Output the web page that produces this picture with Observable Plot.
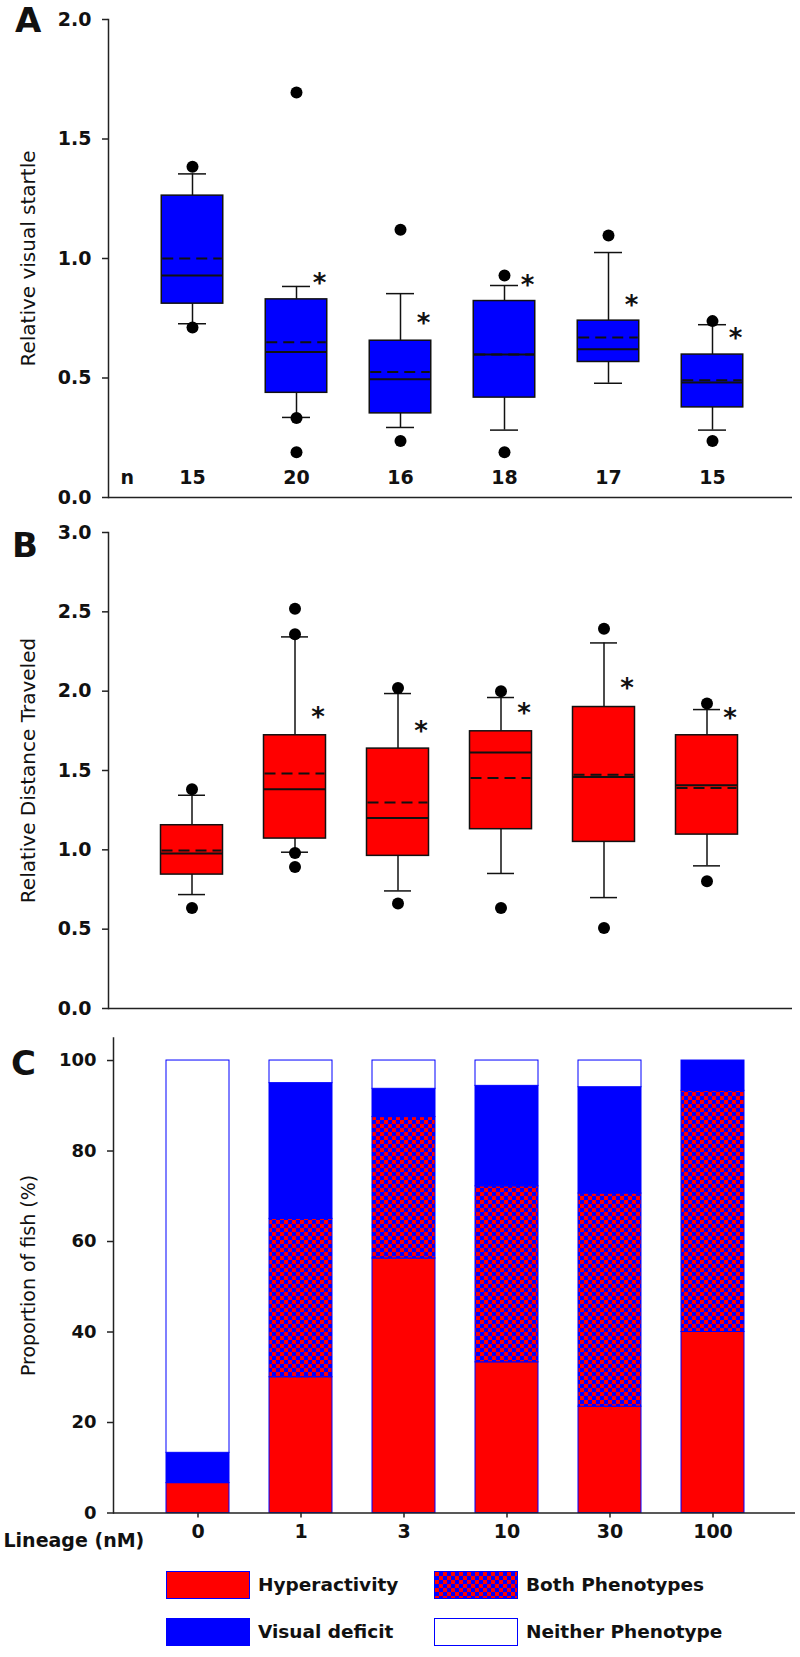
<!DOCTYPE html>
<html>
<head>
<meta charset="utf-8">
<script src="https://cdn.jsdelivr.net/npm/d3@7"></script>
<script src="https://cdn.jsdelivr.net/npm/@observablehq/plot@0.6"></script>
<style>
  body { margin: 0; background: #fff; font-family: "DejaVu Sans", sans-serif; }
  #root { position: relative; width: 800px; height: 1657px; overflow: hidden; background: #fff; }
  .panel { position: absolute; left: 0; }
  .letter { position: absolute; font-size: 34px; font-weight: bold; line-height: 34px; color: #111; }
  .sw { position: absolute; width: 84px; height: 28px; box-sizing: border-box; border: 1.5px solid #0000ff; }
  .lt { position: absolute; height: 28px; line-height: 28px; font-size: 18.5px; font-weight: bold; color: #111; white-space: nowrap; }
</style>
</head>
<body>
<div id="root">
  <div id="pA" class="panel" style="top:0px"></div>
  <div id="pB" class="panel" style="top:520px"></div>
  <div id="pC" class="panel" style="top:1020px"></div>
  <div class="letter" style="left:15px; top:3px">A</div>
  <div class="letter" style="left:12px; top:528px">B</div>
  <div class="letter" style="left:11px; top:1046px">C</div>
  <div id="legend"></div>
</div>
<script>
// ---------- shared categories ----------
const doses = ["0", "1", "3", "10", "30", "100"];
const nFish = [15, 20, 16, 18, 17, 15];

// ---------- Panel A: relative visual startle ----------
const aLow    = [0.727, 0.335, 0.293, 0.282, 0.478, 0.282];
const aQ1     = [0.811, 0.438, 0.352, 0.418, 0.567, 0.377];
const aMedian = [0.929, 0.609, 0.495, 0.598, 0.620, 0.481];
const aMean   = [1.000, 0.650, 0.525, 0.598, 0.669, 0.491];
const aQ3     = [1.263, 0.829, 0.656, 0.822, 0.740, 0.598];
const aHigh   = [1.354, 0.883, 0.853, 0.887, 1.025, 0.723];
const aOutliers = [[1.384, 0.711], [1.695, 0.333, 0.189], [1.12, 0.236], [0.929, 0.189], [1.096], [0.738, 0.236]];
const aStars  = [null, 0.925, 0.755, 0.915, 0.832, 0.695];
const aTicks  = [0, 0.5, 1.0, 1.5, 2.0];

// ---------- Panel B: relative distance traveled ----------
const bLow    = [0.718, 0.985, 0.741, 0.851, 0.699, 0.899];
const bQ1     = [0.844, 1.071, 0.962, 1.130, 1.050, 1.096];
const bMedian = [0.977, 1.382, 1.201, 1.613, 1.459, 1.407];
const bMean   = [0.996, 1.481, 1.298, 1.453, 1.474, 1.390];
const bQ3     = [1.155, 1.722, 1.638, 1.747, 1.900, 1.722];
const bHigh   = [1.344, 2.342, 1.985, 1.960, 2.304, 1.884];
const bOutliers = [[1.382, 0.634], [2.520, 2.358, 0.980, 0.892], [2.02, 0.662], [2.0, 0.634], [2.394, 0.508], [1.922, 0.802]];
const bStars  = [null, 1.88, 1.79, 1.90, 2.062, 1.869];
const bTicks  = [0, 0.5, 1.0, 1.5, 2.0, 2.5, 3.0];

// ---------- Panel C: proportion of fish (%) ----------
const phenotypes = ["Hyperactivity", "Both Phenotypes", "Visual deficit", "Neither Phenotype"];
const hyper   = [6.6, 30, 56.25, 33.3, 23.5, 40];
const both    = [0, 35, 31.25, 38.9, 47.1, 53.3];
const visual  = [6.7, 30, 6.25, 22.2, 23.5, 6.7];
const neither = [86.7, 5, 6.25, 5.6, 5.9, 0];
const cTicks  = [0, 20, 40, 60, 80, 100];

const FONT = "DejaVu Sans";
const AX = "#222";
const INK = "#111";

function yTickLabels(ticks, fmt, size) {
  return Plot.text(ticks, {y: d => d, text: d => fmt(d), frameAnchor: "left", textAnchor: "end", dx: -17, fontSize: size, fontWeight: "bold", fill: INK});
}

function boxPanel(o) {
  const rows = doses.map((d, i) => ({
    dose: d, low: o.low[i], q1: o.q1[i], median: o.median[i], mean: o.mean[i],
    q3: o.q3[i], high: o.high[i], n: String(nFish[i])
  }));
  const pts = doses.flatMap((d, i) => o.outliers[i].map(v => ({dose: d, v})));
  const stars = doses.map((d, i) => ({dose: d, v: o.stars[i]})).filter(r => r.v != null);
  const boxInset = o.boxInset, capInset = o.capInset;
  const marks = [
    Plot.ruleX(rows, {x: "dose", y1: "low", y2: "q1", stroke: INK, strokeWidth: 1.5}),
    Plot.ruleX(rows, {x: "dose", y1: "q3", y2: "high", stroke: INK, strokeWidth: 1.5}),
    Plot.tickY(rows, {x: "dose", y: "low", stroke: INK, strokeWidth: 1.5, insetLeft: capInset, insetRight: capInset}),
    Plot.tickY(rows, {x: "dose", y: "high", stroke: INK, strokeWidth: 1.5, insetLeft: capInset, insetRight: capInset}),
    Plot.barY(rows, {x: "dose", y1: "q1", y2: "q3", fill: o.fill, stroke: INK, strokeWidth: 1.5, insetLeft: boxInset, insetRight: boxInset}),
    Plot.tickY(rows, {x: "dose", y: "median", stroke: INK, strokeWidth: 2, insetLeft: boxInset, insetRight: boxInset}),
    Plot.tickY(rows, {x: "dose", y: "mean", stroke: INK, strokeWidth: 2, strokeDasharray: "11,6", insetLeft: boxInset + 1, insetRight: boxInset + 1}),
    Plot.dot(pts, {x: "dose", y: "v", r: 6, fill: "#000", stroke: "none"}),
    Plot.text(stars, {x: "dose", y: "v", text: () => "*", dx: 23, dy: 7, fontSize: 26, fontWeight: "bold", fill: INK}),
    Plot.ruleY([0], {stroke: AX, strokeWidth: 1.5}),
    Plot.frame({anchor: "left", stroke: AX, strokeWidth: 1.5}),
    Plot.axisY({ticks: o.ticks, tickSize: 6, tickFormat: () => "", label: null, stroke: AX, strokeWidth: 1.5}),
    yTickLabels(o.ticks, d3.format(".1f"), 19),
    Plot.text([o.yLabel], {frameAnchor: "left", textAnchor: "middle", rotate: -90, dx: -80, fontSize: 20, fill: INK})
  ];
  if (o.showN) {
    marks.push(Plot.text(rows, {x: "dose", text: "n", frameAnchor: "bottom", dy: -14, fontSize: 19, fontWeight: "bold", fill: INK}));
    marks.push(Plot.text(["n"], {frameAnchor: "bottom-left", dx: 12, dy: -14, fontSize: 19, fontWeight: "bold", fill: INK}));
  }
  return Plot.plot({
    width: 800, height: o.height,
    marginTop: o.marginTop, marginBottom: o.marginBottom, marginLeft: 108, marginRight: 8,
    style: {fontFamily: FONT, background: "transparent", overflow: "visible"},
    x: {type: "band", domain: doses, range: o.xRange, padding: 0, axis: null},
    y: {domain: [0, o.ticks[o.ticks.length - 1]], axis: null},
    marks
  });
}

const svgA = boxPanel({
  low: aLow, q1: aQ1, median: aMedian, mean: aMean, q3: aQ3, high: aHigh,
  outliers: aOutliers, stars: aStars, ticks: aTicks, fill: "#0000ff",
  yLabel: "Relative visual startle", height: 520, marginTop: 19, marginBottom: 23,
  xRange: [140, 764], boxInset: 21.25, capInset: 38, showN: true
});
document.getElementById("pA").appendChild(svgA);

const svgB = boxPanel({
  low: bLow, q1: bQ1, median: bMedian, mean: bMean, q3: bQ3, high: bHigh,
  outliers: bOutliers, stars: bStars, ticks: bTicks, fill: "#ff0000",
  yLabel: "Relative Distance Traveled", height: 500, marginTop: 12, marginBottom: 12,
  xRange: [139, 759], boxInset: 20.5, capInset: 38, showN: false
});
document.getElementById("pB").appendChild(svgB);

// ---------- Panel C ----------
const seriesC = [hyper, both, visual, neither];
const cRows = phenotypes.flatMap((p, k) => doses.map((d, i) => ({dose: d, phenotype: p, value: seriesC[k][i]})))
  .filter(r => r.value > 0);

const svgC = Plot.plot({
  width: 800, height: 540,
  marginTop: 17.4, marginBottom: 47.5, marginLeft: 113, marginRight: 5,
  style: {fontFamily: FONT, background: "transparent", overflow: "visible"},
  x: {type: "band", domain: doses, range: [143, 766], padding: 0, axis: null},
  y: {domain: [0, 105], axis: null},
  color: {type: "ordinal", domain: phenotypes, range: ["#ff0000", "url(#checker)", "#0000ff", "#ffffff"]},
  marks: [
    Plot.barY(cRows, {x: "dose", y: "value", fill: "phenotype", stroke: "#0000ff", strokeWidth: 1, insetLeft: 20, insetRight: 20}),
    Plot.ruleY([0], {stroke: AX, strokeWidth: 1.5}),
    Plot.frame({anchor: "left", stroke: AX, strokeWidth: 1.5}),
    Plot.axisY({ticks: cTicks, tickSize: 6, tickFormat: () => "", label: null, stroke: AX, strokeWidth: 1.5}),
    yTickLabels(cTicks, d3.format("d"), 18),
    Plot.axisX({tickSize: 5, tickFormat: () => "", label: null, stroke: AX, strokeWidth: 1.5}),
    Plot.text(doses, {x: d => d, text: d => d, frameAnchor: "bottom", dy: 25, fontSize: 19, fontWeight: "bold", fill: INK}),
    Plot.text(["Proportion of fish (%)"], {frameAnchor: "left", textAnchor: "middle", rotate: -90, dx: -85, fontSize: 19, fill: INK}),
    Plot.text(["Lineage (nM)"], {frameAnchor: "bottom-left", dx: -110, dy: 34, textAnchor: "start", fontSize: 19, fontWeight: "bold", fill: INK})
  ]
});
// checkerboard pattern for "Both Phenotypes"
const defs = d3.select(svgC).insert("defs", ":first-child");
const pat = defs.append("pattern").attr("id", "checker").attr("width", 8).attr("height", 8).attr("patternUnits", "userSpaceOnUse");
pat.append("rect").attr("width", 8).attr("height", 8).attr("fill", "#ff0000");
pat.append("rect").attr("width", 4).attr("height", 4).attr("fill", "#0000ff");
pat.append("rect").attr("x", 4).attr("y", 4).attr("width", 4).attr("height", 4).attr("fill", "#0000ff");
document.getElementById("pC").appendChild(svgC);

// ---------- Legend ----------
const swatchStyle = {
  "Hyperactivity": "background:#ff0000;",
  "Both Phenotypes": "background: conic-gradient(#0000ff 25%, #ff0000 0 50%, #0000ff 0 75%, #ff0000 0) 0 0/8px 8px;",
  "Visual deficit": "background:#0000ff;",
  "Neither Phenotype": "background:#ffffff;"
};
const legendPos = {
  "Hyperactivity": [166, 1571],
  "Both Phenotypes": [434, 1571],
  "Visual deficit": [166, 1618],
  "Neither Phenotype": [434, 1618]
};
const lg = document.getElementById("legend");
for (const p of phenotypes) {
  const [lx, ly] = legendPos[p];
  const sw = document.createElement("div");
  sw.className = "sw";
  sw.style.cssText = `left:${lx}px; top:${ly}px; ${swatchStyle[p]}`;
  lg.appendChild(sw);
  const t = document.createElement("div");
  t.className = "lt";
  t.style.left = (lx + 92) + "px";
  t.style.top = ly + "px";
  t.textContent = p;
  lg.appendChild(t);
}
</script>
</body>
</html>
